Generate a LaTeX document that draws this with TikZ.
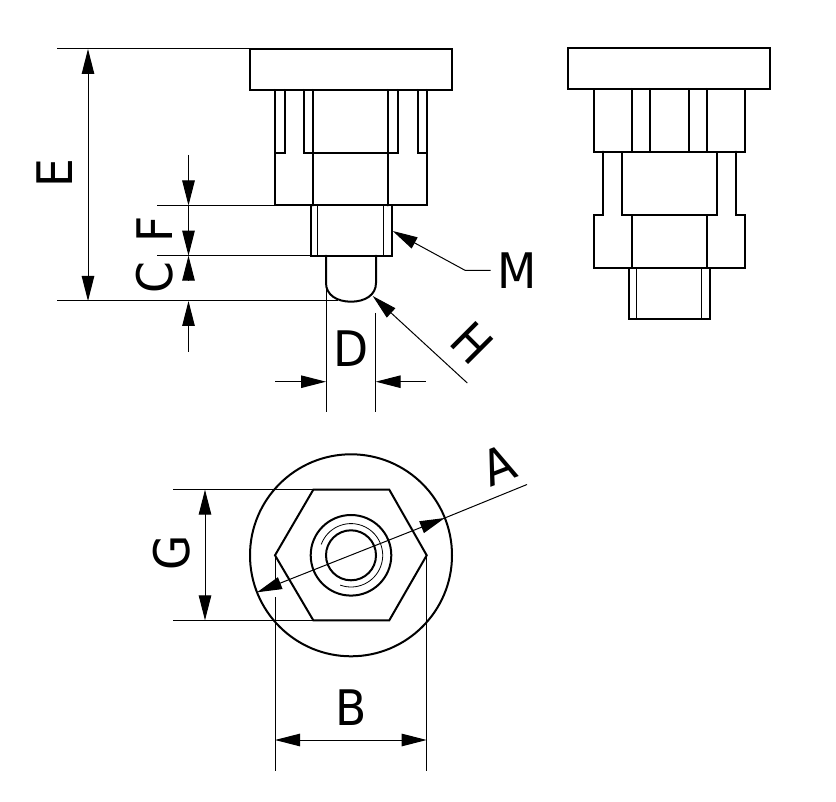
\documentclass[tikz,border=0pt]{standalone}
\usepackage{fontspec}
\setmainfont[FakeStretch=0.93]{DejaVu Sans}
\usetikzlibrary{arrows.meta}
\tikzset{
  x=1pt,y=-1pt,
  part/.style={draw=black,line width=2pt,line join=miter,line cap=round,fill=none},
  fine/.style={draw=black,line width=1pt},
  dimline/.style={draw=black,line width=1pt},
  tip/.style={-{Triangle[length=25pt,width=12.5pt]}},
  tips/.style={{Triangle[length=25pt,width=12.5pt]}-{Triangle[length=25pt,width=12.5pt]}},
  lab/.style={inner sep=0pt,outer sep=0pt,font=\fontsize{49}{49}\selectfont,text=black}
}
\begin{document}
\begin{tikzpicture}
\useasboundingbox (0,0) rectangle (836,802);
\fill[white] (0,0) rectangle (836,802);

% Left view
\draw[part] (250,49) rectangle (452,90);
\draw[part] (275,90) -- (275,205.5) -- (426.7,205.5) -- (426.7,90);
\draw[part] (285,90) -- (285,152.7) -- (275,152.7);
\draw[part] (304,90) -- (304,152.7) -- (397.7,152.7) -- (397.7,90);
\draw[part] (312.7,90) -- (312.7,205.5);
\draw[part] (388.3,90) -- (388.3,205.5);
\draw[part] (417.7,90) -- (417.7,152.7) -- (426.7,152.7);
\draw[part] (311.3,205.5) rectangle (392,255.7);
\draw[fine] (317.3,205.5) -- (317.3,255.7);
\draw[fine] (383.7,205.5) -- (383.7,255.7);
\draw[part] (326,255.7) -- (326,283) .. controls (326,295) and (337,301.7) .. (351,301.7)
  .. controls (365,301.7) and (376,295) .. (376,283) -- (376,255.7);

% Right view
\draw[part] (568,48.5) rectangle (770,89);
\draw[part] (594,89) rectangle (745,151.7);
\draw[part] (631.7,89) -- (631.7,151.7);
\draw[part] (650,89) -- (650,151.7);
\draw[part] (689,89) -- (689,151.7);
\draw[part] (706.7,89) -- (706.7,151.7);
\draw[part] (622,151.7) rectangle (716.7,215.3);
\draw[part] (603,151.7) -- (603,215.3) -- (594,215.3) -- (594,268) -- (745,268) -- (745,215.3) -- (735.7,215.3) -- (735.7,151.7);
\draw[part] (632,215.3) -- (632,268);
\draw[part] (707,215.3) -- (707,268);
\draw[part] (629,268) rectangle (710,318.7);
\draw[fine] (636.3,268) -- (636.3,318.7);
\draw[fine] (701.7,268) -- (701.7,318.7);

% Bottom view
\draw[part] (351,555.3) circle[radius=101];
\draw[part] (275,555.3) -- (313.3,489.7) -- (389.3,489.7) -- (426.7,555.3) -- (389.3,620.3) -- (313.3,620.3) -- cycle;
\draw[part] (351,555.3) circle[radius=40.3];
\draw[part] (351,555.3) circle[radius=25];
\draw[fine,line width=0.8pt] (351,555.3) ++(110:31.7) arc[start angle=110,end angle=-160,radius=31.7];

% Named points for dimensions
\coordinate (eTop) at (88,49);
\coordinate (eBot) at (88,301);
\coordinate (fUp) at (188.5,155);
\coordinate (fA) at (188.5,205.5);
\coordinate (fB) at (188.5,255.7);
\coordinate (cMid) at (188.5,280);
\coordinate (cB) at (188.5,301);
\coordinate (cLow) at (188.5,351.7);
\coordinate (dL) at (326,381.7);
\coordinate (dR) at (375.7,381.7);
\coordinate (dLo) at (275,381.7);
\coordinate (dRo) at (425.7,381.7);
\coordinate (gT) at (205,489.7);
\coordinate (gB) at (205,620.3);
\coordinate (bL) at (275,740);
\coordinate (bR) at (426.7,740);
\coordinate (aL) at (257,592.3);
\coordinate (aR) at (444.8,518);
\coordinate (aEnd) at (527,484.5);
\coordinate (mTip) at (392.7,231);
\coordinate (mK) at (465,270.3);
\coordinate (mEnd) at (490.7,270.3);
\coordinate (hTip) at (372.7,296);
\coordinate (hEnd) at (467.3,383);

% Extension lines
\draw[fine] (57,48.5) -- (250,48.5);
\draw[fine] (57,301) -- (338,301);
\draw[fine] (157,205.5) -- (275,205.5);
\draw[fine] (157,255.7) -- (311,255.7);
\draw[fine] (326,285) -- (326,412.5);
\draw[fine] (375.5,313) -- (375.5,412.5);
\draw[fine] (173,489.7) -- (313,489.7);
\draw[fine] (173,620.3) -- (313,620.3);
\draw[fine] (275,555.3) -- (275,585);
\draw[fine] (275,597) -- (275,771);
\draw[fine] (426.7,555.3) -- (426.7,771);

% Dimension lines
\draw[dimline,tips] (eTop) -- (eBot);
\draw[dimline,tip] (fUp) -- (fA);
\draw[dimline,tip] (fA) -- (fB);
\draw[dimline,tip] (cMid) -- (fB);
\draw[dimline,tip] (cLow) -- (cB);
\draw[dimline,tip] (dLo) -- (dL);
\draw[dimline,tip] (dRo) -- (dR);
\draw[dimline,tips] (gT) -- (gB);
\draw[dimline,tips] (bL) -- (bR);
\draw[dimline,tips] (aL) -- (aR);
\draw[dimline] (aR) -- (aEnd);
\draw[dimline,tip] (mEnd) -- (mK) -- (mTip);
\draw[dimline,tip] (hEnd) -- (hTip);

% Labels
\node[lab,rotate=90] (labE) at (55,173) {E};
\node[lab,rotate=90] (labF) at (155,229.5) {F};
\node[lab,rotate=90] (labC) at (155,278) {C};
\node[lab] (labD) at (351,349) {D};
\node[lab] (labM) at (517,270.5) {M};
\node[lab,rotate=-45] (labH) at (472,343) {H};
\node[lab,rotate=21] (labA) at (499,465) {A};
\node[lab,rotate=90] (labG) at (172,553) {G};
\node[lab] (labB) at (351,708) {B};
\end{tikzpicture}
\end{document}
